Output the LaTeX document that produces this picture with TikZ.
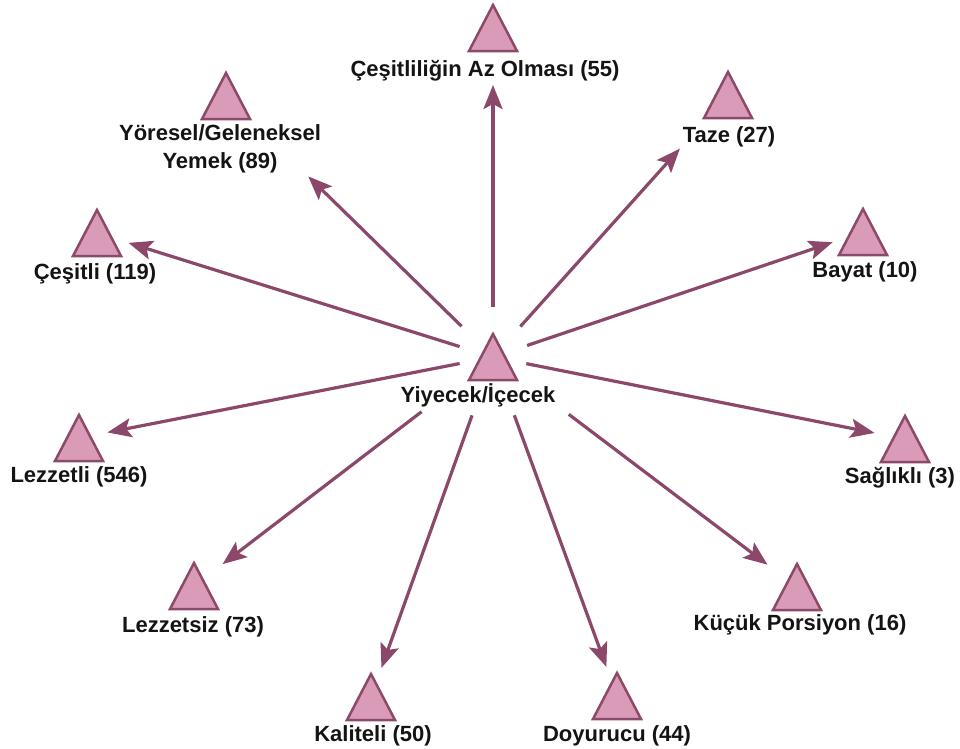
\documentclass[tikz,border=0pt]{standalone}
\usepackage{fontspec}
\setmainfont{Liberation Sans}
\usetikzlibrary{arrows.meta}
\definecolor{trifill}{HTML}{D99BB7}
\definecolor{triedge}{HTML}{8B4A6A}
\definecolor{linkcol}{HTML}{8B486B}
\definecolor{labelcol}{HTML}{141414}

% a pink triangle marker: an empty box node whose anchors carry the outline
\newcommand{\marker}[3]{%
  \node[tribox] (#1) at (#2,#3) {};
  \draw[trishape] (#1.south west) -- (#1.north) -- (#1.south east) -- cycle;}

\begin{document}
\begin{tikzpicture}[x=1pt,y=-1pt,
  tribox/.style={minimum width=48pt,minimum height=46pt,inner sep=0pt,outer sep=0pt},
  trishape/.style={fill=trifill,draw=triedge,line width=2.5pt},
  lbl/.style={font=\fontsize{22}{28}\selectfont\bfseries,text=labelcol,
              inner sep=0pt,anchor=base,align=center},
  link/.style={draw=linkcol,line width=3.2pt,
               -{Stealth[length=24pt,width=19pt,inset=5pt]}}]

\useasboundingbox (0,0) rectangle (960,748);

% markers
\marker{hub}{493}{357}
\marker{top}{493}{28}
\marker{taze}{728}{95}
\marker{bayat}{863}{232}
\marker{saglikli}{905}{439}
\marker{kucuk}{797}{587}
\marker{doyurucu}{617}{696}
\marker{kaliteli}{371}{697}
\marker{lezzetsiz}{194}{586}
\marker{lezzetli}{79}{438}
\marker{cesitli}{97}{233}
\marker{yoresel}{226}{96}

% labels
\node[lbl] (hubL) at (478,402) {Yiyecek/İçecek};
\node[lbl] (topL) at (485,76) {Çeşitliliğin Az Olması (55)};
\node[lbl] (tazeL) at (729,142) {Taze (27)};
\node[lbl] (bayatL) at (865,277) {Bayat (10)};
\node[lbl] (saglikliL) at (900,483) {Sağlıklı (3)};
\node[lbl] (kucukL) at (800,630) {Küçük Porsiyon (16)};
\node[lbl] (doyurucuL) at (617,741) {Doyurucu (44)};
\node[lbl] (kaliteliL) at (373,741) {Kaliteli (50)};
\node[lbl] (lezzetsizL) at (193,632) {Lezzetsiz (73)};
\node[lbl] (lezzetliL) at (79,482) {Lezzetli (546)};
\node[lbl] (cesitliL) at (95,279) {Çeşitli (119)};
\node[lbl] (yoreselL) at (220,168) {Yöresel/Geleneksel\\Yemek (89)};

% connectors radiating from the hub
\draw[link,shorten <=50pt,shorten >=57pt] (hub.center) -- (top.center);
\draw[link,shorten <=41pt,shorten >=72pt] (hub.center) -- (taze.center);
\draw[link,shorten <=36pt,shorten >=32pt] (hub.center) -- (bayat.center);
\draw[link,shorten <=34pt,shorten >=31pt] (hub.center) -- (saglikli.center);
\draw[link,shorten <=95pt,shorten >=37pt] (hub.center) -- (kucuk.center);
\draw[link,shorten <=62pt,shorten >=31pt] (hub.center) -- (doyurucu.center);
\draw[link,shorten <=62pt,shorten >=31pt] (hub.center) -- (kaliteli.center);
\draw[link,shorten <=90pt,shorten >=36pt] (hub.center) -- (lezzetsiz.center);
\draw[link,shorten <=34pt,shorten >=29pt] (hub.center) -- (lezzetli.center);
\draw[link,shorten <=35pt,shorten >=33pt] (hub.center) -- (cesitli.center);
\draw[link,shorten <=44pt,shorten >=115pt] (hub.center) -- (yoresel.center);
\end{tikzpicture}
\end{document}
